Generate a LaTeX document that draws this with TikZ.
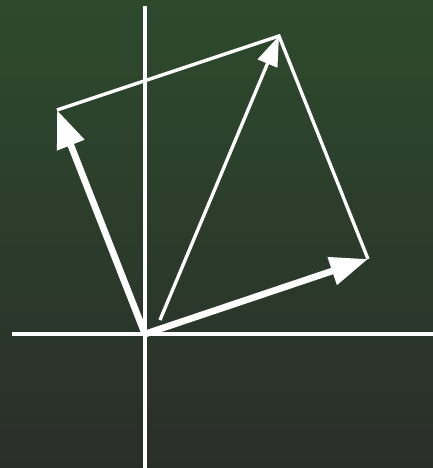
\documentclass[tikz,border=0pt]{standalone}
\usepackage{xcolor}
\usepackage{tikz}
\usetikzlibrary{calc,arrows.meta}
\definecolor{bgtop}{RGB}{45,74,45}
\definecolor{bgbottom}{RGB}{42,46,41}
\tikzset{
  axis/.style={white,line width=1.9pt},
  thinedge/.style={white,line width=1.9pt,line join=miter},
  basisvec/.style={white,line width=3.8pt,-{Triangle[length=21.5pt,width=15.8pt]}},
  sumvec/.style={white,line width=1.9pt,-{Triangle[length=17pt,width=11.8pt]}}
}
\begin{document}
\begin{tikzpicture}[x=0.02cm,y=-0.02cm]
\shade[top color=bgtop,bottom color=bgbottom] (0,0) rectangle (433,468);
\useasboundingbox (0,0) rectangle (433,468);
\coordinate (O) at (145,334);
\coordinate (A) at (368,259);
\coordinate (B) at (57,110);
\coordinate (S) at (279,36);
\coordinate (Sfrom) at (160,320);
\coordinate (Xl) at (12,334);
\coordinate (Xr) at (433,334);
\coordinate (Yt) at (145,6);
\coordinate (Yb) at (145,468);
% axes
\draw[axis] (Xl) -- (Xr);
\draw[axis] (Yt) -- (Yb);
% parallelogram sides
\draw[thinedge] (B) -- (S) -- (A);
% vectors
\draw[sumvec] (Sfrom) -- (S);
\draw[basisvec] (O) -- (A);
\draw[basisvec] (O) -- (B);
\end{tikzpicture}
\end{document}
